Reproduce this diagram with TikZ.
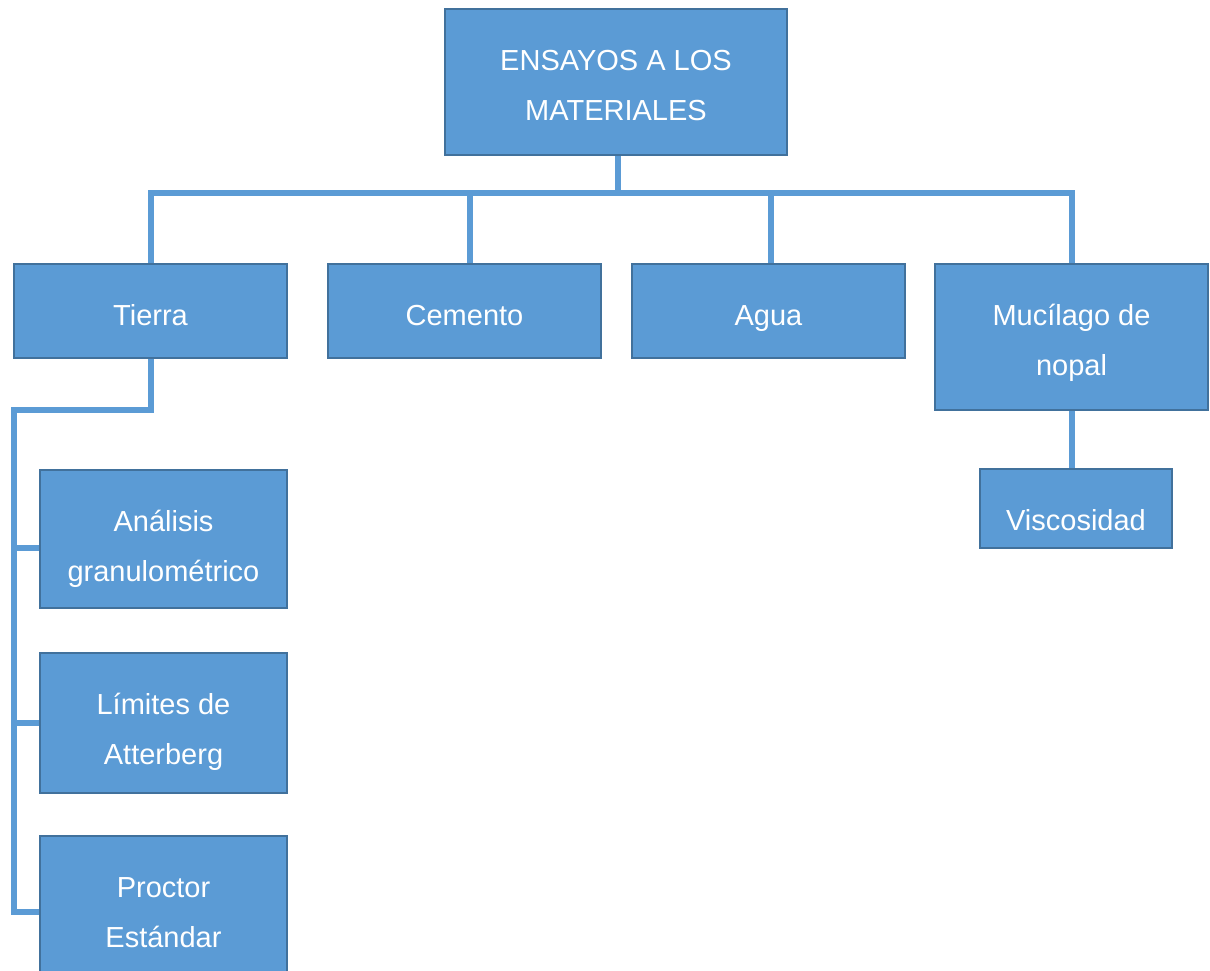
\documentclass[tikz,border=0pt]{standalone}
\usepackage{fontspec}
\setmainfont{Liberation Sans}
\usetikzlibrary{backgrounds}
\definecolor{boxfill}{HTML}{5B9BD5}
\definecolor{boxline}{HTML}{41719C}
\definecolor{connc}{HTML}{5B9BD5}
\newcommand\lnstrut{\rule{0pt}{28pt}}
\begin{document}
\begin{tikzpicture}[x=1pt,y=-1pt,
  box/.style={draw=boxline, line width=2.2pt, fill=boxfill, inner sep=0pt, outer sep=0pt},
  txt/.style={anchor=north, inner sep=0pt, align=center, text=white, font=\fontsize{29}{50.5}\selectfont},
  conn/.style={draw=connc, line width=6pt}]
\useasboundingbox (0,0) rectangle (1210,971);
\clip (0,0) rectangle (1210,971);
% boxes
\node[box, minimum width=342pt, minimum height=146pt] (top) at (616,82) {};
\node[txt] (top-t) at (616,42) {\lnstrut ENSAYOS A LOS\\MATERIALES};
\node[box, minimum width=273pt, minimum height=94pt] (tierra) at (150.5,311) {};
\node[txt] (tierra-t) at (150.5,297) {\lnstrut Tierra};
\node[box, minimum width=273pt, minimum height=94pt] (cemento) at (464.5,311) {};
\node[txt] (cemento-t) at (464.5,297) {\lnstrut Cemento};
\node[box, minimum width=273pt, minimum height=94pt] (agua) at (768.5,311) {};
\node[txt] (agua-t) at (768.5,297) {\lnstrut Agua};
\node[box, minimum width=273pt, minimum height=146pt] (mucilago) at (1071.5,337) {};
\node[txt] (mucilago-t) at (1071.5,297) {\lnstrut Mucílago de\\nopal};
\node[box, minimum width=192pt, minimum height=79pt] (visc) at (1076,508.5) {};
\node[txt] (visc-t) at (1076,502) {\lnstrut Viscosidad};
\node[box, minimum width=247pt, minimum height=138pt] (anal) at (163.5,539) {};
\node[txt] (anal-t) at (163.5,503) {\lnstrut Análisis\\granulométrico};
\node[box, minimum width=247pt, minimum height=140pt] (lim) at (163.5,723) {};
\node[txt] (lim-t) at (163.5,686) {\lnstrut Límites de\\Atterberg};
\node[box, minimum width=247pt, minimum height=152pt] (proctor) at (163.5,912) {};
\node[txt] (proctor-t) at (163.5,869) {\lnstrut Proctor\\Estándar};
% connectors
\coordinate (bus) at (618,193);
\coordinate (tl) at (14,410);
\coordinate (aw) at ([yshift=-9pt]anal.west);
\begin{scope}[on background layer]
\draw[conn] (top.south -| bus) -- (bus);
\draw[conn] (tierra.north) |- (mucilago.north |- bus) -- (mucilago.north);
\draw[conn] ([xshift=5.5pt]cemento.north) -- ([xshift=5.5pt]cemento.north |- bus);
\draw[conn] ([xshift=2.5pt]agua.north) -- ([xshift=2.5pt]agua.north |- bus);
\draw[conn] (tierra.south) |- (tl) |- (proctor.west);
\draw[conn] (aw) -- (aw -| tl);
\draw[conn] (lim.west) -- (lim.west -| tl);
\draw[conn] (mucilago.south) -- (mucilago.south |- visc.north);
\end{scope}
\end{tikzpicture}
\end{document}
